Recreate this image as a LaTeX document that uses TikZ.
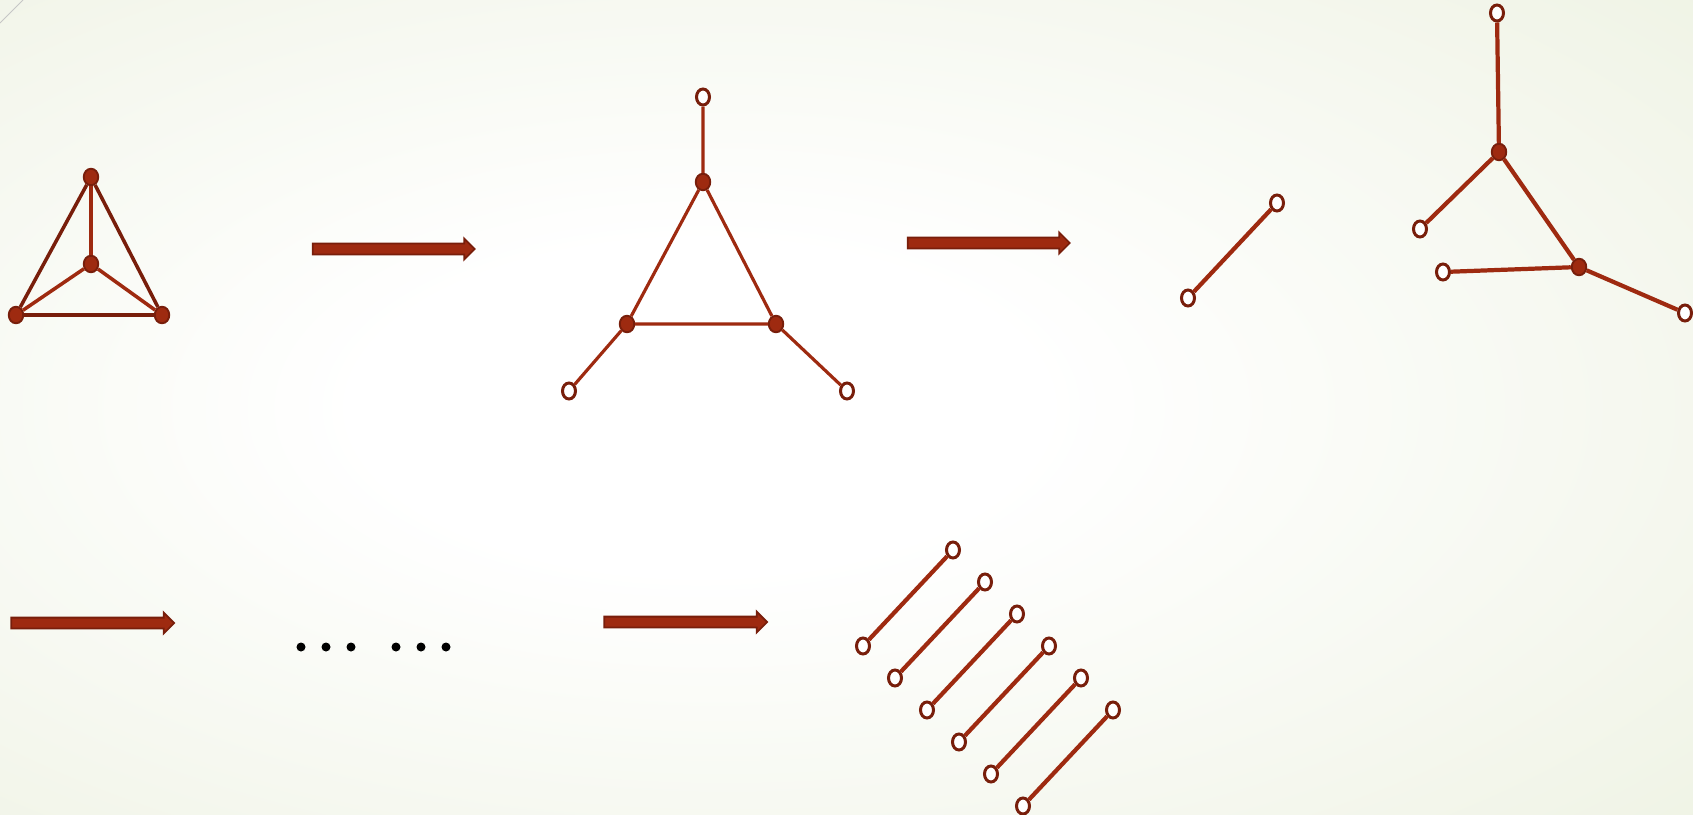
\documentclass[tikz,border=0pt]{standalone}
\usetikzlibrary{shapes.geometric,shapes.arrows}
\definecolor{rust}{RGB}{158,42,16}
\definecolor{rustdark}{RGB}{120,30,11}
\definecolor{bgedge}{RGB}{226,233,207}
\pgfdeclareradialshading{slideglow}{\pgfpoint{-5bp}{0bp}}{color(0bp)=(white); color(10bp)=(white); color(62bp)=(bgedge); color(80bp)=(bgedge)}
\begin{document}
\begin{tikzpicture}[x=0.01cm, y=-0.01cm,
    full/.style={ellipse, draw=rustdark, fill=rust, line width=0.55pt, minimum width=0.145cm, minimum height=0.165cm, inner sep=0pt},
    hollow/.style={ellipse, draw=rustdark, fill=white, line width=0.85pt, minimum width=0.13cm, minimum height=0.16cm, inner sep=0pt},
    link/.style={draw=rust, line width=1pt},
    blockarrow/.style={single arrow, draw=rustdark, fill=rust, line width=0.5pt, inner sep=0.045cm, single arrow head extend=0.05cm},
    blackdot/.style={circle, fill=black, minimum size=0.09cm, inner sep=0pt}]
    \shade[shading=slideglow] (0,0) rectangle (1693,815);
    \useasboundingbox (0,0) rectangle (1693,815);
    \draw[gray!45, line width=0.3pt] (0,23) -- (23,0);
    % K4
    \node[full] (t1) at (91,177) {};
    \node[full] (t2) at (91,264) {};
    \node[full] (t3) at (16,315) {};
    \node[full] (t4) at (162,315) {};
    \draw[link, rustdark] (t1) -- (t3) (t3) -- (t4) (t4) -- (t1);
    \draw[link] (t1) -- (t2) (t2) -- (t3) (t2) -- (t4);
    % arrows
    \node[blockarrow, minimum height=1.62cm] (arrA) at (391,249) {};
    \node[blockarrow, minimum height=1.62cm] (arrB) at (986,243) {};
    \node[blockarrow, minimum height=1.63cm] (arrC) at (90,623) {};
    \node[blockarrow, minimum height=1.63cm] (arrD) at (683,622) {};
    % triangle with pendants
    \node[full] (m1) at (703,182) {};
    \node[full] (m2) at (627,324) {};
    \node[full] (m3) at (776,324) {};
    \node[hollow] (p1) at (703,97) {};
    \node[hollow] (p2) at (569,391) {};
    \node[hollow] (p3) at (847,391) {};
    \draw[link, line width=0.9pt] (m1) -- (m2) (m2) -- (m3) (m3) -- (m1)
        (m1) -- (p1) (m2) -- (p2) (m3) -- (p3);
    % single edge
    \node[hollow] (s1) at (1188,298) {};
    \node[hollow] (s2) at (1277,203) {};
    \draw[link, line width=1.2pt] (s1) -- (s2);
    % tree
    \node[full] (r1) at (1499,152) {};
    \node[full] (r2) at (1579,267) {};
    \node[hollow] (q1) at (1497,13) {};
    \node[hollow] (q2) at (1420,229) {};
    \node[hollow] (q3) at (1443,272) {};
    \node[hollow] (q4) at (1685,313) {};
    \draw[link, line width=1.2pt] (r1) -- (q1) (r1) -- (q2) (r1) -- (r2)
        (r2) -- (q3) (r2) -- (q4);
    % dots
    \foreach \x [count=\i] in {301,326,351,396,421,446}
        \node[blackdot] (dot\i) at (\x,647) {};
    % matching
    \foreach \k in {0,...,5} {
        \node[hollow] (lo\k) at (863+32*\k,646+32*\k) {};
        \node[hollow] (hi\k) at (953+32*\k,550+32*\k) {};
        \draw[link, line width=1.2pt] (lo\k) -- (hi\k);
    }
\end{tikzpicture}
\end{document}
